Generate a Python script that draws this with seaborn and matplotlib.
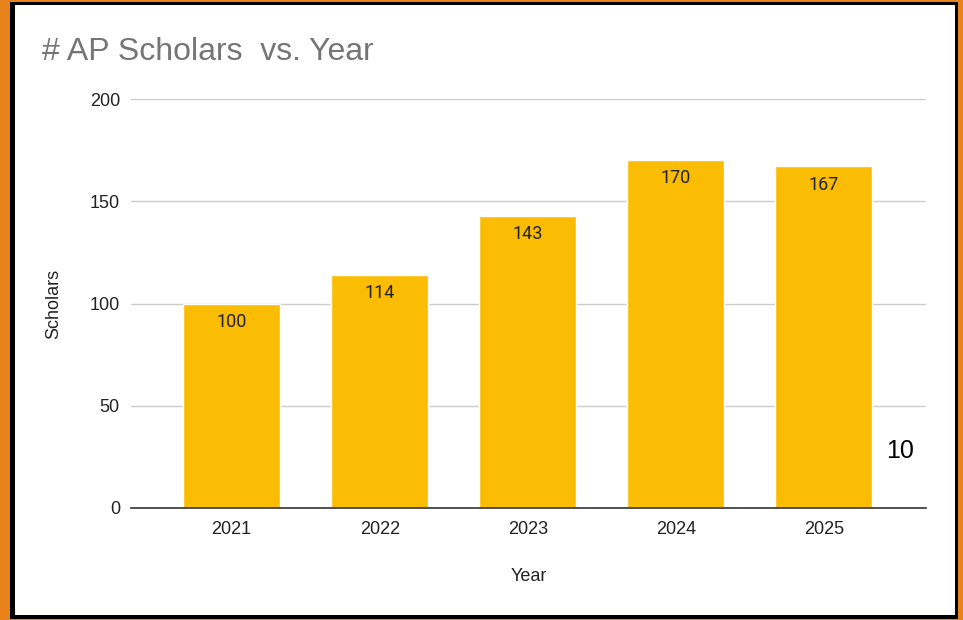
import numpy as np
import pandas as pd
import matplotlib
matplotlib.use("Agg")
import matplotlib.pyplot as plt
from matplotlib.patches import Rectangle
import seaborn as sns

years = ["2021", "2022", "2023", "2024", "2025"]
scholars = [100, 114, 143, 170, 167]
y_ticks = [0, 50, 100, 150, 200]

d = pd.DataFrame({"Year": years, "Scholars": scholars})

sns.set_style("white")
plt.rcParams["font.family"] = ["Liberation Sans", "DejaVu Sans"]

W, H = 963, 620
fig = plt.figure(figsize=(W / 100, H / 100), dpi=100)
fig.patch.set_facecolor("#E8821A")

# frame: orange outer, black border, white inner
def px_rect(x0, y0, x1, y1, color):
    fig.patches.append(Rectangle((x0 / W, 1 - y1 / H), (x1 - x0) / W, (y1 - y0) / H,
                                 transform=fig.transFigure, facecolor=color,
                                 edgecolor="none", zorder=-10))

px_rect(10, 2, 958, 619, "black")
px_rect(15, 5, 955, 615, "white")

ax = fig.add_axes([131 / W, 1 - 508 / H, 795 / W, 409 / H])
ax.set_facecolor("none")
sns.barplot(data=d, x="Year", y="Scholars", color="#FBBC04", saturation=1,
            width=0.655, ax=ax, zorder=3)

ax.set_xlim(-0.68, 4.69)
ax.set_ylim(0, 200)
ax.set_yticks(y_ticks)
ax.yaxis.grid(True, color="#cccccc", linewidth=1, zorder=0)
ax.set_axisbelow(True)
for s in ["top", "right", "left"]:
    ax.spines[s].set_visible(False)
ax.spines["bottom"].set_color("#333333")
ax.spines["bottom"].set_linewidth(1.2)
ax.spines["bottom"].set_zorder(4)
ax.tick_params(axis="both", length=0, labelsize=13, colors="#222222", pad=8)
ax.tick_params(axis="x", pad=9)

ax.set_xlabel("Year", fontsize=13, color="#222222", labelpad=22)
ax.set_ylabel("Scholars", fontsize=13, color="#222222", labelpad=20)

for i, v in enumerate(scholars):
    ax.annotate(str(v), xy=(i, v), xytext=(0, -13), textcoords="offset points",
                ha="center", va="center", fontsize=13, color="#222222",
                family=["Roboto", "DejaVu Sans"], zorder=5)

fig.text(42 / W, 1 - 52 / H, "# AP Scholars  vs. Year", fontsize=23, color="#757575",
         ha="left", va="center")
fig.text(900 / W, 1 - 451 / H, "10", fontsize=18, color="black", ha="center", va="center")

fig.savefig("out.png", dpi=100)
